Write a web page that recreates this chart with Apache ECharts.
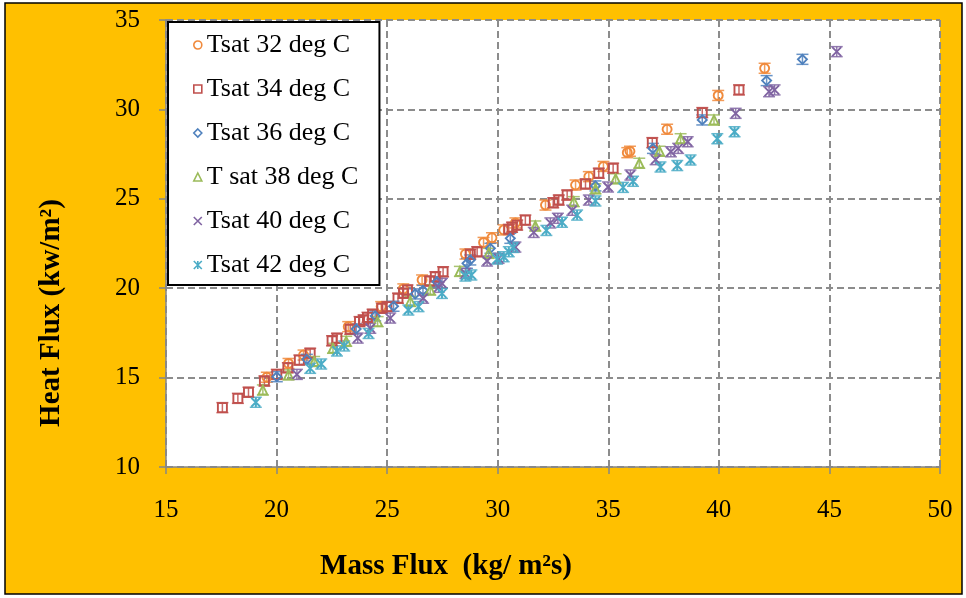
<!DOCTYPE html>
<html>
<head>
<meta charset="utf-8">
<script src="https://cdn.jsdelivr.net/npm/echarts@6/dist/echarts.min.js"></script>
<style>
  html, body { margin: 0; padding: 0; background: #ffffff; }
  #chart { width: 966px; height: 598px; }
</style>
</head>
<body>
<div id="chart"></div>
<script>
// Mass flux (kg/m²s) vs heat flux (kW/m²) for each saturation temperature
const tsat32 = [[19.56,15.02],[20.54,15.79],[21.22,16.26],[23.24,17.85],[24.73,18.97],[25.73,19.96],[26.58,20.46],[28.54,21.91],[29.36,22.56],[29.74,22.82],[30.27,23.26],[30.80,23.65],[32.16,24.65],[33.52,25.77],[34.12,26.24],[34.78,26.81],[35.86,27.58],[35.98,27.66],[37.66,28.89],[39.97,30.78],[42.07,32.30]];
const tsat34 = [[17.55,13.32],[18.25,13.84],[18.73,14.18],[19.45,14.81],[20.01,15.18],[20.51,15.55],[21.03,15.98],[21.52,16.36],[22.51,17.06],[22.73,17.20],[23.33,17.70],[23.75,18.13],[23.93,18.22],[24.11,18.37],[24.34,18.54],[24.76,18.88],[24.99,18.97],[25.49,19.44],[25.74,19.72],[25.92,19.90],[26.92,20.40],[27.18,20.64],[27.53,20.92],[28.76,21.90],[29.07,22.04],[30.50,23.29],[30.65,23.41],[30.88,23.53],[31.25,23.81],[32.51,24.78],[32.76,24.93],[33.14,25.21],[33.97,25.83],[34.57,26.43],[35.22,26.71],[36.99,28.14],[39.25,29.82],[40.91,31.09]];
const tsat36 = [[20.01,15.05],[21.37,16.02],[23.60,17.72],[24.46,18.45],[25.29,18.99],[26.27,19.68],[26.62,19.88],[27.25,20.36],[28.61,21.39],[28.76,21.58],[29.67,22.23],[30.57,22.79],[34.42,25.72],[37.02,27.82],[39.25,29.41],[42.16,31.61],[43.78,32.80]];
const tsat38 = [[19.38,14.31],[20.54,15.15],[21.70,15.90],[22.55,16.64],[23.15,17.03],[24.57,18.13],[26.05,19.26],[26.95,19.90],[28.29,20.94],[29.59,21.95],[31.70,23.48],[33.44,24.84],[34.42,25.56],[35.33,26.12],[36.40,26.99],[37.32,27.66],[38.27,28.36],[39.78,29.41]];
const tsat40 = [[20.92,15.18],[23.67,17.21],[24.24,17.76],[25.14,18.33],[26.63,19.44],[27.33,20.05],[27.48,20.27],[28.54,20.83],[29.52,21.52],[30.04,21.67],[30.80,22.30],[31.63,23.12],[32.38,23.65],[32.72,23.91],[33.37,24.36],[34.12,24.93],[34.99,25.66],[36.00,26.33],[37.14,27.19],[37.83,27.63],[38.16,27.82],[38.59,28.19],[40.76,29.78],[42.27,30.99],[42.52,31.09],[45.33,33.23]];
const tsat42 = [[19.06,13.62],[21.52,15.52],[22.02,15.76],[22.73,16.49],[23.06,16.77],[24.16,17.47],[25.96,18.78],[26.42,18.97],[27.48,19.71],[28.54,20.68],[28.81,20.74],[29.97,21.63],[30.27,21.76],[30.50,22.04],[30.71,22.28],[32.20,23.23],[32.91,23.69],[33.59,24.09],[34.42,24.88],[35.67,25.64],[36.12,25.98],[37.36,26.78],[38.12,26.86],[38.72,27.17],[39.93,28.36],[40.71,28.75]];

// Half-height of the uncertainty bar on heat flux (kW/m²)
const heatFluxError = 0.28;

const seriesNames = ['Tsat 32 deg C', 'Tsat 34 deg C', 'Tsat 36 deg C', 'T sat 38 deg C', 'Tsat 40 deg C', 'Tsat 42 deg C'];
const xTitle = 'Mass Flux  (kg/ m²s)';
const yTitle = 'Heat Flux (kw/m²)';
const xTicks = { min: 15, max: 50, interval: 5 };
const yTicks = { min: 10, max: 35, interval: 5 };

const seriesData = [tsat32, tsat34, tsat36, tsat38, tsat40, tsat42];
const colors = ['#F08A3C', '#C0504D', '#4F81BD', '#9BBB59', '#8064A2', '#4BACC6'];
const symbols = [
  'circle',
  'rect',
  'diamond',
  'triangle',
  'path://M0,0 L10,10 M10,0 L0,10',
  'path://M0,0 L10,10 M10,0 L0,10 M5,0 L5,10'
];
const sizes = [9, 9, 9, 9, 9, 9];

const FONT = '"Liberation Serif", "Times New Roman", serif';

const series = [];
seriesData.forEach(function (d, i) {
  // error bars drawn under each marker
  series.push({
    type: 'custom',
    name: seriesNames[i] + ' err',
    data: d,
    z: 1,
    silent: true,
    renderItem: function (params, api) {
      const x = api.value(0), y = api.value(1);
      const top = api.coord([x, y + heatFluxError]);
      const bot = api.coord([x, y - heatFluxError]);
      const hw = 6;
      const st = { stroke: colors[i], lineWidth: 1.5, opacity: 0.85 };
      return {
        type: 'group',
        children: [
          { type: 'line', shape: { x1: top[0], y1: top[1], x2: bot[0], y2: bot[1] }, style: st },
          { type: 'line', shape: { x1: top[0] - hw, y1: top[1], x2: top[0] + hw, y2: top[1] }, style: st },
          { type: 'line', shape: { x1: bot[0] - hw, y1: bot[1], x2: bot[0] + hw, y2: bot[1] }, style: st }
        ]
      };
    }
  });
  series.push({
    type: 'scatter',
    name: seriesNames[i],
    data: d,
    z: 2,
    symbol: symbols[i],
    symbolSize: sizes[i],
    itemStyle: { color: 'rgba(255,255,255,0)', borderColor: colors[i], borderWidth: 1.9, opacity: 1 },
    emphasis: { disabled: true }
  });
});

const chart = echarts.init(document.getElementById('chart'), null, { renderer: 'canvas' });
chart.setOption({
  animation: false,
  backgroundColor: '#ffffff',
  graphic: [
    {
      type: 'rect', z: -10, silent: true,
      shape: { x: 5, y: 3, width: 957, height: 591 },
      style: { fill: '#FFC000', stroke: '#000000', lineWidth: 1.5 }
    },
    {
      type: 'text', silent: true, z: 10,
      x: 446, y: 567,
      style: {
        text: xTitle, fontFamily: FONT, fontSize: 29, fontWeight: 'bold',
        fill: '#000000', align: 'center', verticalAlign: 'middle'
      }
    },
    {
      type: 'text', silent: true, z: 10,
      x: 52, y: 313, rotation: Math.PI / 2,
      style: {
        text: yTitle, fontFamily: FONT, fontSize: 29, fontWeight: 'bold',
        fill: '#000000', align: 'center', verticalAlign: 'middle'
      }
    }
  ],
  grid: {
    left: 166, right: 26, top: 20, bottom: 131,
    show: true, backgroundColor: '#ffffff', borderWidth: 0
  },
  legend: {
    orient: 'vertical',
    left: 168, top: 22,
    data: seriesNames.map(function (n, i) {
      return { name: n, icon: symbols[i], itemStyle: { color: 'rgba(255,255,255,0)', borderColor: colors[i], borderWidth: 1.6 } };
    }),
    itemWidth: 8, itemHeight: 8,
    itemGap: 18,
    padding: [10, 21, 7, 25],
    backgroundColor: '#ffffff',
    borderColor: '#000000',
    borderWidth: 2,
    selectedMode: false,
    textStyle: { fontFamily: FONT, fontSize: 26, color: '#000000', lineHeight: 26 }
  },
  xAxis: {
    type: 'value',
    min: xTicks.min, max: xTicks.max, interval: xTicks.interval,
    axisLine: { onZero: false, lineStyle: { color: '#878787', width: 1.5 } },
    axisTick: { show: true, length: 7, lineStyle: { color: '#878787', width: 1.5 } },
    axisLabel: { margin: 31, fontFamily: FONT, fontSize: 25, color: '#000000' },
    splitLine: { show: true, lineStyle: { color: '#8C8C8C', width: 2, type: [7, 4] } }
  },
  yAxis: {
    type: 'value',
    min: yTicks.min, max: yTicks.max, interval: yTicks.interval,
    axisLine: { show: true, onZero: false, lineStyle: { color: '#878787', width: 1.5 } },
    axisTick: { show: true, length: 7, lineStyle: { color: '#878787', width: 1.5 } },
    axisLabel: { margin: 26, fontFamily: FONT, fontSize: 25, color: '#000000' },
    splitLine: { show: true, lineStyle: { color: '#8C8C8C', width: 2, type: [7, 4] } }
  },
  series: series
});
</script>
</body>
</html>
